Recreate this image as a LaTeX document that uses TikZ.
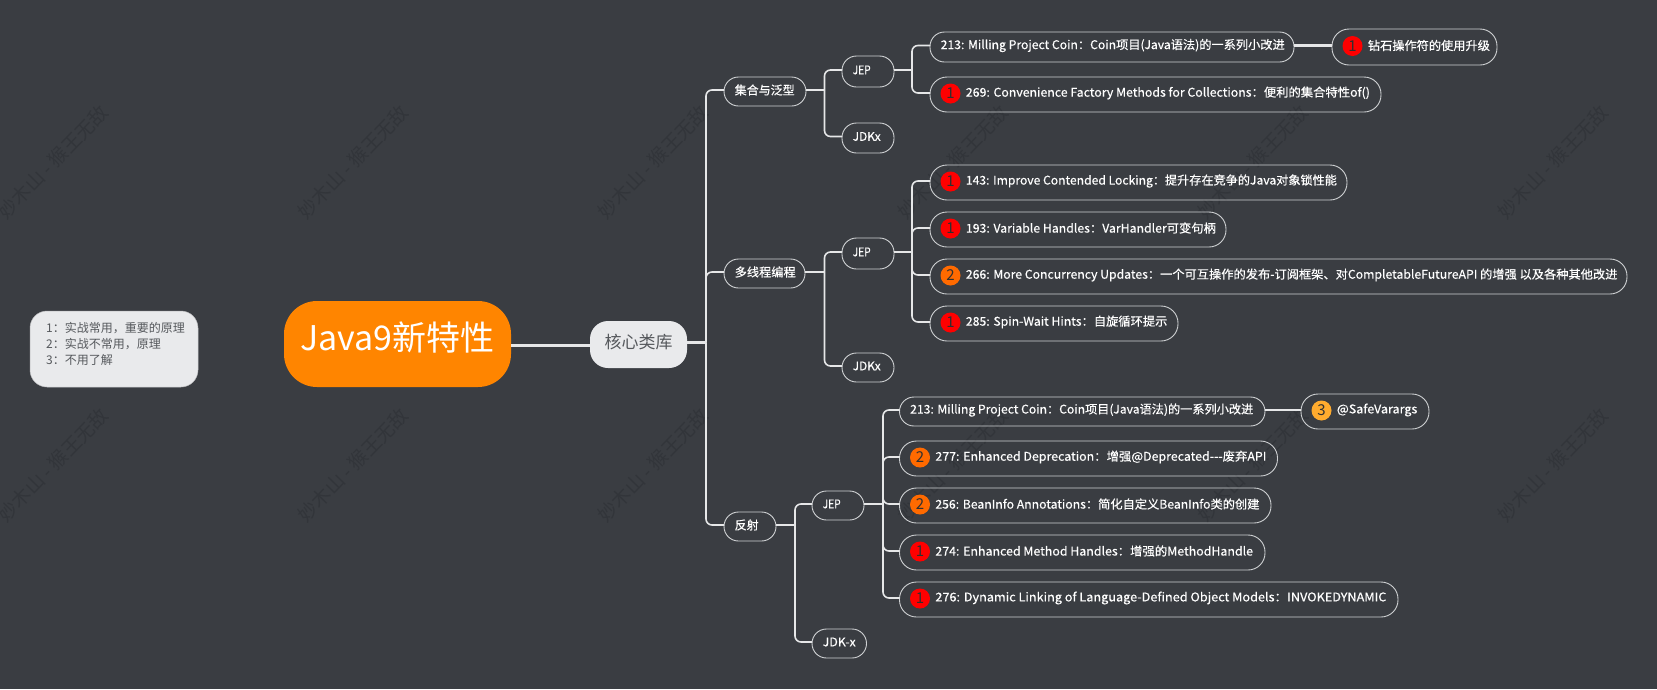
\documentclass[tikz,border=0pt]{standalone}
\usepackage{fontspec}
\usepackage{graphicx}
\setmainfont{Noto Sans CJK SC}
\newfontfamily\boldish{Noto Sans CJK SC}[FakeBold=0.4]
\definecolor{bgc}{HTML}{3A3D42}
\definecolor{wmc}{HTML}{32353A}
\definecolor{linec}{HTML}{E6E7E8}
\definecolor{pillc}{HTML}{CFD1D3}
\definecolor{rootc}{HTML}{FF8500}
\definecolor{softc}{HTML}{E9EAEC}
\definecolor{softt}{HTML}{55585C}
\definecolor{redb}{HTML}{FF0000}
\definecolor{orab}{HTML}{FF6A00}
\definecolor{ambb}{HTML}{FFAB2E}
\definecolor{digc}{HTML}{303030}
\tikzset{
  pillbox/.style={draw=pillc,line width=0.9pt,inner sep=0pt,outer sep=0pt},
  pilltxt/.style={text=white,anchor=west,inner sep=0pt,font=\fontsize{12}{14}\boldish},
  badge/.style={circle,minimum size=20pt,inner sep=0pt,text=digc,font=\fontsize{15}{15}\selectfont},
  stub/.style={draw=linec,line width=2.8pt},
  branch/.style={draw=linec,line width=1.6pt,rounded corners=6pt},
  wm/.style={text=wmc,rotate=46,font=\fontsize{19}{19}\selectfont,inner sep=0pt},
}
% name x1 y1 x2 y2
\newcommand{\pillbase}[5]{%
  \pgfmathsetmacro{\pw}{#4-#2}\pgfmathsetmacro{\ph}{#5-#3}%
  \pgfmathsetmacro{\pr}{\ph>32?17:14.5}%
  \node[pillbox,minimum width=\pw pt,minimum height=\ph pt,rounded corners=\pr pt] (#1) at ({(#2+#4)/2},{(#3+#5)/2}) {};
  \coordinate (#1-in) at ([yshift=1.5pt]#1.west);
  \coordinate (#1-out) at ([yshift=1.5pt]#1.east);
}
% name x1 y1 x2 y2 textwidth text
\newcommand{\pill}[7]{%
  \pillbase{#1}{#2}{#3}{#4}{#5}%
  \node[pilltxt] (#1-t) at ([xshift=10.5pt,yshift=1.5pt]#1.west) {\resizebox{#6pt}{\height}{#7}};
}
% name x1 y1 x2 y2 colour digit textwidth text
\newcommand{\bpill}[9]{%
  \pillbase{#1}{#2}{#3}{#4}{#5}%
  \node[badge,fill=#6] (#1-b) at ([xshift=20.5pt,yshift=1pt]#1.west) {#7};
  \node[pilltxt] (#1-t) at ([xshift=35.7pt,yshift=1.5pt]#1.west) {\resizebox{#8pt}{\height}{#9}};
}
\newcommand{\kids}[3]{% parent, branch coordinate, children
  \draw[stub] (#1-out) -- (#2 |- #1-out);
  \foreach \c in {#3} { \draw[branch] (#2 |- #1-out) |- (\c-in); }
}
\begin{document}
\begin{tikzpicture}[x=1pt,y=-1pt]
\useasboundingbox (0,0) rectangle (1657,689);
\fill[bgc] (0,0) rectangle (1657,689);
% watermarks
\foreach \wy in {162,465} \foreach \wx in {53,353,653,953,1253,1553}
  \node[wm] at (\wx,\wy) {妙木山 - 猴王无敌};
% legend, root, main
\node[fill=softc,draw=softc!80!black,line width=0.5pt,minimum width=168pt,minimum height=76pt,rounded corners=17pt,inner sep=0pt] (legend) at (114,349) {};
\node[anchor=west,text=softt,align=left,inner sep=0pt,font=\fontsize{12}{16}\selectfont] (legendt) at (46,344) {1：实战常用，重要的原理\\2：实战不常用，原理\\3：不用了解};
\node[fill=rootc,minimum width=227pt,minimum height=86pt,rounded corners=33pt,inner sep=0pt,outer sep=0pt] (root) at (397.5,344) {};
\node[text=white,inner sep=0pt,font=\fontsize{34}{34}\selectfont] (roott) at (397.5,338) {Java9新特性};
\node[fill=softc,minimum width=97pt,minimum height=47pt,rounded corners=18pt,inner sep=0pt,outer sep=0pt] (core) at (638.5,344.5) {};
\node[text=softt,inner sep=0pt,font=\fontsize{17}{17}\selectfont] (coret) at (638.5,342) {核心类库};
\coordinate (root-out) at ([yshift=-1pt]root.east);
\draw[linec,line width=3pt] (root-out) -- (core.west |- root-out);
% level 1
\pill{a}{724}{77}{806}{106}{60}{集合与泛型}
\pill{b}{724}{259}{805}{288}{61}{多线程编程}
\pill{c}{724}{512}{776}{541}{24}{反射}
% set
\pill{a1}{842}{56}{894}{87}{18}{JEP}
\pill{a2}{842}{123}{894}{153}{28}{JDKx}
\pill{a11}{930}{32}{1294}{62}{344}{213: Milling Project Coin：Coin项目(Java语法)的一系列小改进}
\bpill{a12}{930}{77}{1381}{112}{redb}{1}{404}{269: Convenience Factory Methods for Collections：便利的集合特性of()}
\bpill{a111}{1332}{29}{1497}{65}{redb}{1}{122}{钻石操作符的使用升级}
% threads
\pill{b1}{842}{238}{894}{269}{18}{JEP}
\pill{b2}{842}{353}{894}{382}{28}{JDKx}
\bpill{b11}{930}{165}{1347}{200}{redb}{1}{371}{143: Improve Contended Locking：提升存在竞争的Java对象锁性能}
\bpill{b12}{930}{212}{1226}{247}{redb}{1}{250}{193: Variable Handles：VarHandler可变句柄}
\bpill{b13}{930}{259}{1627}{294}{orab}{2}{651.5}{266: More Concurrency Updates：一个可互操作的发布-订阅框架、对CompletableFutureAPI 的增强 以及各种其他改进}
\bpill{b14}{930}{306}{1178}{341}{redb}{1}{201.5}{285: Spin-Wait Hints：自旋循环提示}
% reflection
\pill{c1}{812}{491}{864}{520}{18}{JEP}
\pill{c2}{812}{629}{866.5}{658}{33}{JDK-x}
\pill{c11}{899.5}{397}{1265}{426}{343}{213: Milling Project Coin：Coin项目(Java语法)的一系列小改进}
\bpill{c111}{1301}{394}{1429}{429}{ambb}{3}{80.4}{@SafeVarargs}
\bpill{c12}{899.5}{441}{1277.5}{476}{orab}{2}{331}{277: Enhanced Deprecation：增强@Deprecated---废弃API}
\bpill{c13}{899.5}{488}{1271}{523}{orab}{2}{324}{256: BeanInfo Annotations：简化自定义BeanInfo类的创建}
\bpill{c14}{899.5}{535}{1265}{570}{redb}{1}{317.6}{274: Enhanced Method Handles：增强的MethodHandle}
\bpill{c15}{899.5}{582}{1398}{617}{redb}{1}{451}{276: Dynamic Linking of Language-Defined Object Models：INVOKEDYNAMIC}
% branch lines
\coordinate (core-out) at ([yshift=2pt]core.east);
\coordinate (trunk) at (706,0);
\coordinate (ba) at (824.5,0);
\coordinate (bb) at (824.5,0);
\coordinate (bc) at (795,0);
\coordinate (ba1) at (912,0);
\coordinate (bb1) at (912,0);
\coordinate (bc1) at (883,0);
\kids{core}{trunk}{a,b,c}
\kids{a}{ba}{a1,a2}
\kids{b}{bb}{b1,b2}
\kids{c}{bc}{c1,c2}
\kids{a1}{ba1}{a11,a12}
\kids{b1}{bb1}{b11,b12,b13,b14}
\kids{c1}{bc1}{c11,c12,c13,c14,c15}
\draw[stub] (a11-out) -- (a111-in);
\draw[stub] (c11-out) -- (c111-in);
\end{tikzpicture}
\end{document}
